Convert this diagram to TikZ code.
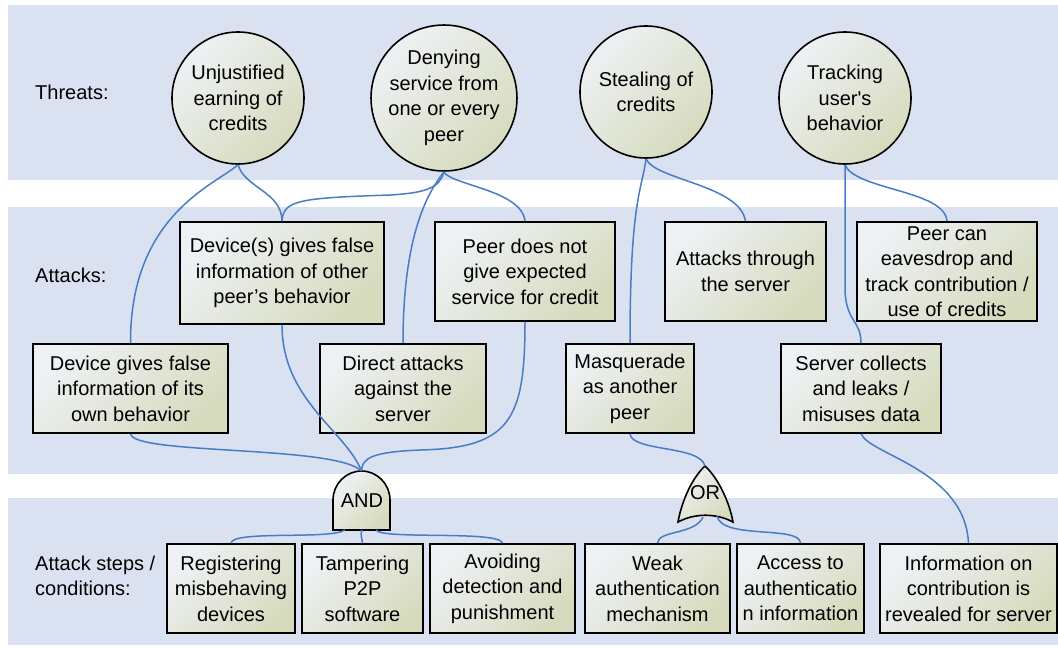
\documentclass[tikz,border=0pt]{standalone}
\usepackage{fontspec}
\setmainfont{Liberation Sans}
\definecolor{bandblue}{HTML}{DAE1F1}
\definecolor{linkblue}{HTML}{4A7CC6}
\definecolor{fillpale}{HTML}{EEF1F4}
\definecolor{fillgreen}{HTML}{D6DBBE}
\tikzset{
  band/.style={fill=bandblue},
  fillgrad/.style={left color=fillpale, right color=fillgreen, shading angle=45},
  threat/.style={circle, draw=black, line width=1.6pt, fillgrad, minimum size=132pt, inner sep=0pt, align=center},
  attack/.style={rectangle, draw=black, line width=1.6pt, fillgrad, inner sep=0pt, align=center},
  gate/.style={draw=black, line width=1.6pt, fillgrad},
  link/.style={draw=linkblue, line width=1.5pt},
  rowlbl/.style={anchor=west, align=left, inner sep=0pt},
}
\begin{document}
\begin{tikzpicture}[x=1pt, y=-1pt, font=\fontsize{20}{25.5}\selectfont]
  \useasboundingbox (0,0) rectangle (1058,648);

  \fill[band] (8,5) rectangle (1058,180);
  \fill[band] (8,207) rectangle (1058,474);
  \fill[band] (8,498) rectangle (1058,645);

  \node[rowlbl] (l-threats) at (35,92) {Threats:};
  \node[rowlbl] (l-attacks) at (35,275) {Attacks:};
  \node[rowlbl] (l-steps) at (35,576) {Attack steps /\\conditions:};

  % threats
  \node[threat] (c-earn)  at (238,98) {Unjustified\\earning of\\credits};
  \node[threat] (c-deny)  at (444,98) {Denying\\service from\\one or every\\peer};
  \node[threat] (c-steal) at (646,92) {Stealing of\\credits};
  \node[threat] (c-track) at (845,98) {Tracking\\user\textquotesingle s\\behavior};

  % attacks
  \node[attack, minimum width=204pt, minimum height=102pt] (a-other)   at (282,273)   {Device(s) gives false\\information of other\\peer’s behavior};
  \node[attack, minimum width=180pt, minimum height=99pt]  (a-noserv)  at (525,271.5) {Peer does not\\give expected\\service for credit};
  \node[attack, minimum width=161pt, minimum height=99pt]  (a-through) at (745.5,271.5) {Attacks through\\the server};
  \node[attack, minimum width=180pt, minimum height=99pt]  (a-eaves)   at (947,271.5) {Peer can\\eavesdrop and\\track contribution /\\use of credits};
  \node[attack, minimum width=195pt, minimum height=89pt]  (a-own)     at (130.5,388.5) {Device gives false\\information of its\\own behavior};
  \node[attack, minimum width=166pt, minimum height=89pt]  (a-direct)  at (403,388.5) {Direct attacks\\against the\\server};
  \node[attack, minimum width=128pt, minimum height=89pt]  (a-masq)    at (630,388.5) {Masquerade\\as another\\peer};
  \node[attack, minimum width=160pt, minimum height=89pt]  (a-leak)    at (861,388.5) {Server collects\\and leaks /\\misuses data};

  % attack steps
  \node[attack, minimum width=128pt, minimum height=89pt] (s-reg)    at (231,588.5)   {Registering\\misbehaving\\devices};
  \node[attack, minimum width=121pt, minimum height=89pt] (s-tamper) at (362.5,588.5) {Tampering\\P2P\\software};
  \node[attack, minimum width=145pt, minimum height=89pt] (s-avoid)  at (502.5,588.5) {Avoiding\\detection and\\punishment};
  \node[attack, minimum width=145pt, minimum height=89pt] (s-weak)   at (657.5,588.5) {Weak\\authentication\\mechanism};
  \node[attack, minimum width=127pt, minimum height=89pt] (s-access) at (800.5,588.5) {Access to\\authenticatio\\n information};
  \node[attack, minimum width=177pt, minimum height=89pt] (s-info)   at (968.5,588.5) {Information on\\contribution is\\revealed for server};

  % gates
  \draw[gate] (333,530) -- (333,500) .. controls (333,484) and (346,471) .. (361.5,471)
    .. controls (377,471) and (390,484) .. (390,500) -- (390,530) -- cycle;
  \node (g-and) at (362,501) {AND};
  \draw[gate] (705,466) .. controls (690,480) and (681,505) .. (678,522)
    .. controls (695,513) and (716,513) .. (733,522) .. controls (730,505) and (720,480) .. (705,466) -- cycle;
  \node (g-or) at (705,493) {OR};
  \coordinate (and-in) at (361.5,471);
  \coordinate (and-out-l) at (345,530);
  \coordinate (and-out-m) at (362,530);
  \coordinate (and-out-r) at (376,530);
  \coordinate (or-in) at (705,466);
  \coordinate (or-out-l) at (703,517);
  \coordinate (or-out-r) at (717,516);

  % links threats -> attacks
  \draw[link] (c-earn.south) .. controls (215,185) and (130,215) .. (a-own.north);
  \draw[link] (c-earn.south) .. controls (245,188) and (282,192) .. (a-other.north);
  \draw[link] (c-deny.south) .. controls (440,188) and (425,193) .. (390,195)
    .. controls (300,198) and (283,200) .. (a-other.north);
  \draw[link] (c-deny.south) .. controls (430,190) and (403,230) .. (a-direct.north);
  \draw[link] (c-deny.south) .. controls (450,185) and (522,190) .. (a-noserv.north);
  \draw[link] (c-steal.south) .. controls (642,190) and (630,200) .. (a-masq.north);
  \draw[link] (c-steal.south) .. controls (655,180) and (740,185) .. (a-through.north);
  \draw[link] (c-track.south) -- (845,290) .. controls (846,322) and (861,320) .. (a-leak.north);
  \draw[link] (c-track.south) .. controls (855,190) and (945,190) .. (a-eaves.north);

  % links attacks -> gates
  \draw[link] (a-own.south) .. controls (133,455) and (335,445) .. (and-in);
  \draw[link] (a-other.south) .. controls (282,400) and (345,430) .. (and-in);
  \draw[link] (a-noserv.south) .. controls (525,420) and (510,448) .. (420,450)
    .. controls (372,452) and (362,458) .. (and-in);
  \draw[link] (a-masq.south) .. controls (632,452) and (700,445) .. (or-in);
  \draw[link] (a-leak.south) .. controls (870,455) and (965,470) .. (s-info.north);

  % links gates -> steps
  \draw[link] (and-out-l) .. controls (330,540) and (232,530) .. (s-reg.north);
  \draw[link] (and-out-m) .. controls (360,535) and (362,538) .. (s-tamper.north);
  \draw[link] (and-out-r) .. controls (382,540) and (500,530) .. (s-avoid.north);
  \draw[link] (or-out-l) .. controls (695,535) and (658,530) .. (s-weak.north);
  \draw[link] (or-out-r) .. controls (722,540) and (800,525) .. (s-access.north);
\end{tikzpicture}
\end{document}
